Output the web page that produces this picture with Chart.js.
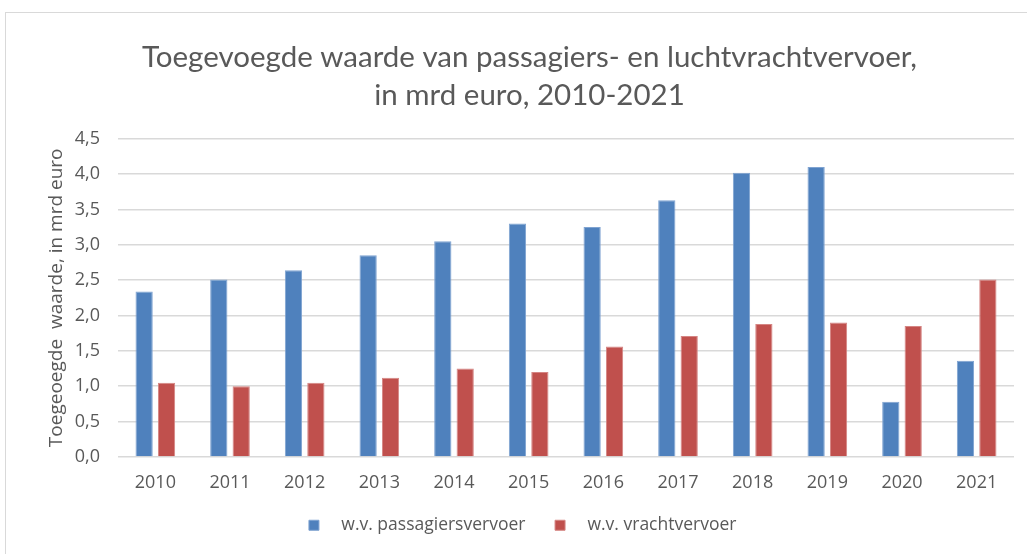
<!DOCTYPE html>
<html>
<head>
<meta charset="utf-8">
<script src="https://cdn.jsdelivr.net/npm/chart.js@4"></script>
<style>
html,body{margin:0;padding:0;background:#fff;}
#wrap{position:relative;width:1027px;height:554px;overflow:hidden;}
#frame{position:absolute;left:5px;top:12px;width:1040px;height:560px;border:1px solid #d9d9d9;box-sizing:border-box;}
canvas{position:absolute;left:0;top:0;}
</style>
</head>
<body>
<div id="wrap">
<div id="frame"></div>
<canvas id="c" width="1027" height="554"></canvas>
</div>
<script>
const categories = ['2010','2011','2012','2013','2014','2015','2016','2017','2018','2019','2020','2021'];
const passagiers = [2.34, 2.51, 2.64, 2.85, 3.05, 3.30, 3.25, 3.63, 4.02, 4.10, 0.78, 1.36];
const vracht = [1.05, 1.00, 1.05, 1.12, 1.25, 1.20, 1.56, 1.71, 1.88, 1.90, 1.85, 2.51];
const seriesNames = ['w.v. passagiersvervoer', 'w.v. vrachtvervoer'];
const titleLines = ['Toegevoegde waarde van passagiers- en luchtvrachtvervoer,', 'in mrd euro, 2010-2021'];
const yTitle = 'Toegeoegde  waarde, in mrd euro';

const grey = '#595959';
new Chart(document.getElementById('c'), {
  type: 'bar',
  data: {
    labels: categories,
    datasets: [
      {label: seriesNames[0], data: passagiers, backgroundColor: '#4F81BD', borderColor: '#7fa3d1', borderWidth: 1},
      {label: seriesNames[1], data: vracht, backgroundColor: '#C0504D', borderColor: '#d58583', borderWidth: 1}
    ]
  },
  options: {
    responsive: false,
    animation: false,
    layout: {padding: {left: 45, right: 13, top: 0, bottom: 10}},
    datasets: {bar: {categoryPercentage: 0.6, barPercentage: 0.77}},
    plugins: {
      title: {display: true, text: titleLines, color: grey, font: {family: 'Lato', size: 29.5, weight: 'normal', lineHeight: 1.3}, padding: {top: 38, bottom: 24}},
      legend: {position: 'bottom',
        labels: {color: grey, font: {family: 'Open Sans', size: 17.5}, boxWidth: 10, boxHeight: 10, padding: 16,
          generateLabels: chart => Chart.defaults.plugins.legend.labels.generateLabels(chart).map(l => { l.text = '   ' + l.text + '   '; return l; })}},
      tooltip: {enabled: false}
    },
    scales: {
      x: {
        grid: {display: false},
        border: {display: false},
        ticks: {color: grey, font: {family: 'Open Sans', size: 18}, padding: 7}
      },
      y: {
        min: 0, max: 4.5,
        afterFit: s => { s.width = 73; },
        ticks: {stepSize: 0.5, color: grey, font: {family: 'Open Sans', size: 18}, padding: 18,
          callback: v => v.toFixed(1).replace('.', ',')},
        grid: {color: '#d9d9d9', lineWidth: 1.5, drawTicks: false},
        border: {display: false},
        title: {display: true, text: yTitle, color: grey, font: {family: 'Open Sans', size: 19}, padding: {top: 0, bottom: 4}}
      }
    }
  }
});
</script>
</body>
</html>
